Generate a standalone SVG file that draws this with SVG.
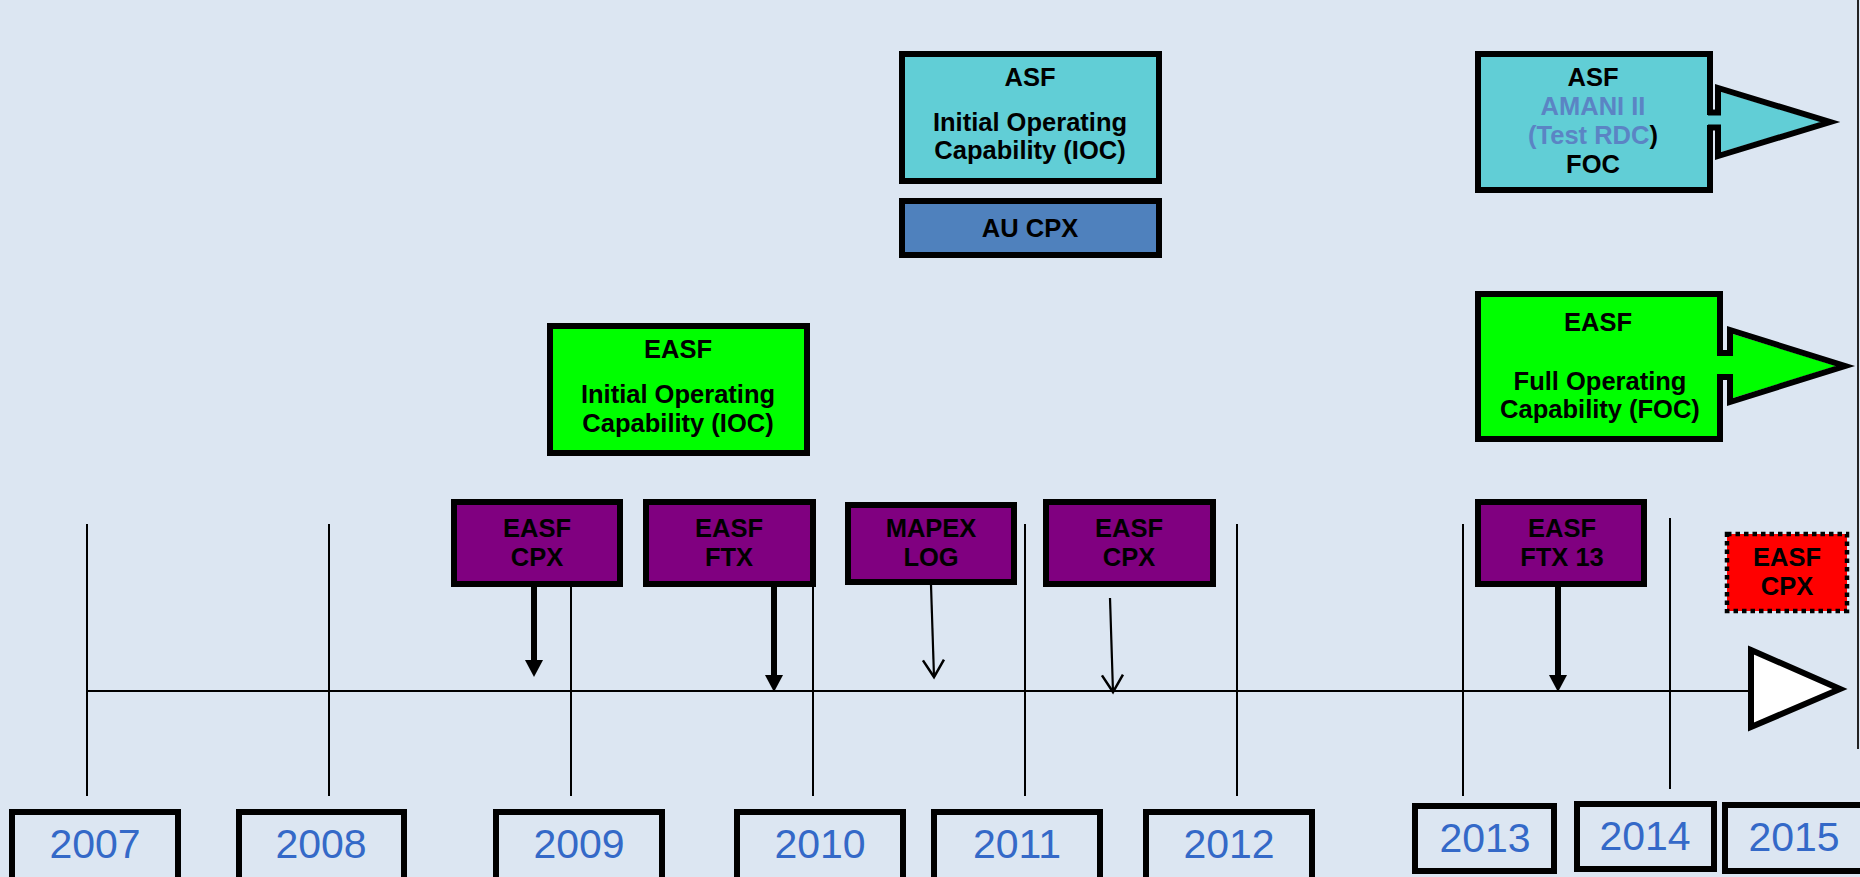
<svg xmlns="http://www.w3.org/2000/svg" width="1860" height="877" viewBox="0 0 1860 877">
<defs>
<style>
.bg{fill:#DCE6F2}
.box{stroke:#000;stroke-width:6}
.purple{fill:#800080}
.green{fill:#00FF00}
.cyan{fill:#61CED6}
.blue{fill:#4F81BD}
.year{fill:#DCE6F2;stroke:#000;stroke-width:6}
.t{font-family:"Liberation Sans",Arial,sans-serif;font-weight:bold;font-size:25.5px;fill:#000;text-anchor:middle}
.yt{font-family:"Liberation Sans",Arial,sans-serif;font-size:41px;fill:#3469C8;text-anchor:middle}
.grid{stroke:#000;stroke-width:2}
.thick{stroke:#000;stroke-width:6;fill:none}
.thin{stroke:#000;stroke-width:2.2;fill:none}
.head{fill:#000}
</style>
<marker id="open" markerUnits="userSpaceOnUse" markerWidth="22" markerHeight="24" viewBox="0 0 22 24" refX="18" refY="12" orient="auto">
<path d="M1,1.5 L18,12 L1,22.5" fill="none" stroke="#000" stroke-width="2.5"/>
</marker>
</defs>
<rect class="bg" x="0" y="0" width="1860" height="877"/>

<g id="gridlines">
<line class="grid" x1="87" y1="524" x2="87" y2="796"/>
<line class="grid" x1="329" y1="524" x2="329" y2="796"/>
<line class="grid" x1="571" y1="524" x2="571" y2="796"/>
<line class="grid" x1="813" y1="524" x2="813" y2="796"/>
<line class="grid" x1="1025" y1="524" x2="1025" y2="796"/>
<line class="grid" x1="1237" y1="524" x2="1237" y2="796"/>
<line class="grid" x1="1463" y1="524" x2="1463" y2="796"/>
<line class="grid" x1="1670" y1="518" x2="1670" y2="789"/>
<line x1="1858" y1="0" x2="1858" y2="749" stroke="#222" stroke-width="2"/>
</g>

<g id="timeline">
<line class="grid" x1="87" y1="691" x2="1752" y2="691"/>
<polygon points="1751,650 1840,689 1751,727" fill="#FFFFFF" stroke="#000" stroke-width="6"/>
</g>

<g id="connectors">
<line class="thick" x1="534" y1="587" x2="534" y2="662"/>
<polygon class="head" points="525,660 543,660 534,677"/>
<line class="thick" x1="774" y1="587" x2="774" y2="677"/>
<polygon class="head" points="765,675 783,675 774,692"/>
<line class="thin" x1="931" y1="585" x2="934" y2="677" marker-end="url(#open)"/>
<line class="thin" x1="1110" y1="598" x2="1113" y2="692" marker-end="url(#open)"/>
<line class="thick" x1="1558" y1="587" x2="1558" y2="677"/>
<polygon class="head" points="1549,675 1567,675 1558,692"/>
</g>

<g id="asf-ioc">
<rect class="box cyan" x="902" y="54" width="257" height="127"/>
<text class="t" x="1030" y="86">ASF</text>
<text class="t" x="1030" y="131">Initial Operating</text>
<text class="t" x="1030" y="159">Capability (IOC)</text>
</g>

<g id="au-cpx">
<rect class="box blue" x="902" y="201" width="257" height="54"/>
<text class="t" x="1030" y="237">AU CPX</text>
</g>

<g id="asf-foc">
<rect class="box cyan" x="1478" y="54" width="232" height="136"/>
<polygon points="1706,115 1721,115 1721,92 1822,122 1721,152 1721,125 1706,125" class="cyan"/>
<polyline points="1708,112.5 1718,112.5 1718,88 1830,122 1718,156 1718,127.5 1708,127.5" fill="none" stroke="#000" stroke-width="6"/>
<text class="t" x="1593" y="86">ASF</text>
<text class="t" x="1593" y="115" style="fill:#5B84C4">AMANI II</text>
<text class="t" x="1593" y="144"><tspan style="fill:#5B84C4">(Test RDC</tspan>)</text>
<text class="t" x="1593" y="173">FOC</text>
</g>

<g id="easf-foc">
<rect class="box green" x="1478" y="294" width="242" height="145"/>
<polygon points="1715,356 1733,356 1733,334 1836,366 1733,398 1733,374 1715,374" class="green"/>
<polyline points="1718,353 1730,353 1730,330 1845,366 1730,402 1730,377 1718,377" fill="none" stroke="#000" stroke-width="6"/>
<text class="t" x="1598" y="331">EASF</text>
<text class="t" x="1600" y="390">Full Operating</text>
<text class="t" x="1600" y="418">Capability (FOC)</text>
</g>

<g id="easf-ioc">
<rect class="box green" x="550" y="326" width="257" height="127"/>
<text class="t" x="678" y="358">EASF</text>
<text class="t" x="678" y="403">Initial Operating</text>
<text class="t" x="678" y="432">Capability (IOC)</text>
</g>

<g id="easf-cpx-2009">
<rect class="box purple" x="454" y="502" width="166" height="82"/>
<text class="t" x="537" y="537">EASF</text>
<text class="t" x="537" y="566">CPX</text>
</g>

<g id="easf-ftx">
<rect class="box purple" x="646" y="502" width="167" height="82"/>
<text class="t" x="729" y="537">EASF</text>
<text class="t" x="729" y="566">FTX</text>
</g>

<g id="mapex-log">
<rect class="box purple" x="848" y="505" width="166" height="77"/>
<text class="t" x="931" y="537">MAPEX</text>
<text class="t" x="931" y="566">LOG</text>
</g>

<g id="easf-cpx-2011">
<rect class="box purple" x="1046" y="502" width="167" height="82"/>
<text class="t" x="1129" y="537">EASF</text>
<text class="t" x="1129" y="566">CPX</text>
</g>

<g id="easf-ftx-13">
<rect class="box purple" x="1478" y="502" width="166" height="82"/>
<text class="t" x="1562" y="537">EASF</text>
<text class="t" x="1562" y="566">FTX 13</text>
</g>

<g id="easf-cpx-2015">
<rect x="1727" y="534" width="120" height="77" fill="#FF0000" stroke="#000" stroke-width="4.5" stroke-dasharray="4.5 4"/>
<text class="t" x="1787" y="566">EASF</text>
<text class="t" x="1787" y="595">CPX</text>
</g>

<g id="y2007"><rect class="year" x="12" y="812" width="166" height="72"/><text class="yt" x="95" y="858">2007</text></g>
<g id="y2008"><rect class="year" x="239" y="812" width="165" height="72"/><text class="yt" x="321" y="858">2008</text></g>
<g id="y2009"><rect class="year" x="496" y="812" width="166" height="72"/><text class="yt" x="579" y="858">2009</text></g>
<g id="y2010"><rect class="year" x="737" y="812" width="166" height="72"/><text class="yt" x="820" y="858">2010</text></g>
<g id="y2011"><rect class="year" x="934" y="812" width="166" height="72"/><text class="yt" x="1017" y="858">2011</text></g>
<g id="y2012"><rect class="year" x="1146" y="812" width="166" height="72"/><text class="yt" x="1229" y="858">2012</text></g>
<g id="y2013"><rect class="year" x="1415" y="806" width="139" height="65"/><text class="yt" x="1485" y="852">2013</text></g>
<g id="y2014"><rect class="year" x="1577" y="804" width="137" height="65"/><text class="yt" x="1645" y="850">2014</text></g>
<g id="y2015"><rect class="year" x="1725" y="805" width="150" height="66"/><text class="yt" x="1794" y="851">2015</text></g>
</svg>
